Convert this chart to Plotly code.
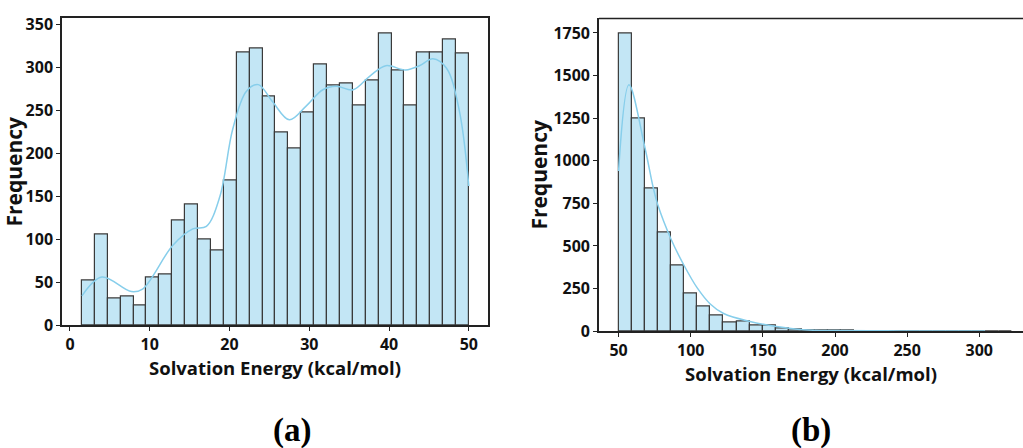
import numpy as np
import plotly.graph_objects as go

# ---- Panel (a) data ----
a_start = 1.5
a_width = 1.617
a_counts = [52, 105, 31, 33, 23, 56, 59, 122, 141, 100, 87, 168,
            317, 322, 266, 224, 206, 248, 304, 279, 281, 256, 285, 340,
            296, 256, 318, 318, 332, 316]
a_kde_x = [1.5, 4.0, 7.7, 9.1, 12.9, 15.4, 17.1, 18.8, 20.4, 22.1, 23.6, 25.4,
           27.5, 29.6, 31.7, 33.4, 35.5, 37.6, 39.6, 42.1, 43.8, 45.5, 47.2, 48.8, 50.0]
a_kde_y = [34, 56, 39, 42, 93, 112, 115, 150, 228, 272, 280, 260,
           239, 255, 274, 278, 274, 290, 302, 297, 302, 310, 299, 250, 162]

# ---- Panel (b) data ----
b_start = 50.0
b_width = 9.08
b_counts = [1745, 1248, 840, 579, 384, 220, 143, 92, 51, 55, 34, 32, 17, 9,
            4, 3, 3, 2, 1, 0, 1, 0, 1, 0, 0, 1, 0, 0, 1, 0]
b_kde_x = [50, 57.2, 68, 74, 77, 86.3, 95.3, 104.5, 113.5, 122.8, 141, 159.3,
           178, 201, 235.8, 270, 300, 304]
b_kde_y = [940, 1446, 1087, 843, 746, 541, 387, 254, 160, 104, 57, 28,
           9, 4, 2, 1, 1, 0.5]

x_ticks_a = [0, 10, 20, 30, 40, 50]
y_ticks_a = [0, 50, 100, 150, 200, 250, 300, 350]
x_ticks_b = [50, 100, 150, 200, 250, 300]
y_ticks_b = [0, 250, 500, 750, 1000, 1250, 1500, 1750]

BAR_FILL = "rgba(135,206,235,0.5)"
BAR_LINE = "#3a3a3a"
KDE_COLOR = "#87ceeb"
FONT = "Open Sans"

a_centers = a_start + a_width * (np.arange(len(a_counts)) + 0.5)
b_centers = b_start + b_width * (np.arange(len(b_counts)) + 0.5)

fig = go.Figure()
fig.add_trace(go.Bar(x=a_centers, y=a_counts, width=a_width,
                     marker=dict(color=BAR_FILL, line=dict(color=BAR_LINE, width=1.2)),
                     xaxis="x", yaxis="y", showlegend=False))
fig.add_trace(go.Scatter(x=a_kde_x, y=a_kde_y, mode="lines",
                         line=dict(color=KDE_COLOR, width=1.5, shape="spline"),
                         xaxis="x", yaxis="y", showlegend=False))
fig.add_trace(go.Bar(x=b_centers, y=b_counts, width=b_width,
                     marker=dict(color=BAR_FILL, line=dict(color=BAR_LINE, width=1.2)),
                     xaxis="x2", yaxis="y2", showlegend=False))
fig.add_trace(go.Scatter(x=b_kde_x, y=b_kde_y, mode="lines",
                         line=dict(color=KDE_COLOR, width=1.5, shape="spline"),
                         xaxis="x2", yaxis="y2", showlegend=False))

tick_font = dict(family=FONT, size=16, color="#111111", weight="bold")
xtitle_font = dict(family=FONT, size=18.5, color="#111111", weight="bold")
ytitle_font = dict(family=FONT, size=21, color="#111111", weight="bold")
axis_common = dict(showgrid=False, zeroline=False, ticks="outside", ticklen=4,
                   tickwidth=1.2, tickcolor="#222222", linecolor="#222222",
                   linewidth=1.5, tickfont=tick_font)

fig.update_layout(
    width=1023, height=448,
    margin=dict(l=0, r=0, t=0, b=0),
    paper_bgcolor="white", plot_bgcolor="white",
    bargap=0,
    xaxis=dict(domain=[0.0606, 0.477], range=[-1.0, 52.4], tickvals=x_ticks_a,
               showline=True, mirror=True, anchor="y",
               title=dict(text="Solvation Energy (kcal/mol)", font=xtitle_font, standoff=2),
               **axis_common),
    yaxis=dict(domain=[0.259, 0.9688], range=[0, 357], tickvals=y_ticks_a,
               showline=True, mirror=True, anchor="x",
               title=dict(text="Frequency", font=ytitle_font, standoff=0),
               **axis_common),
    xaxis2=dict(domain=[0.5855, 1.0], range=[36.4, 330.3], tickvals=x_ticks_b,
                showline=True, mirror=False, anchor="y2",
                title=dict(text="Solvation Energy (kcal/mol)", font=xtitle_font, standoff=2),
                **axis_common),
    yaxis2=dict(domain=[0.2449, 0.9688], range=[0, 1835], tickvals=y_ticks_b,
                showline=True, mirror=False, anchor="x2",
                title=dict(text="Frequency", font=ytitle_font, standoff=0),
                **axis_common),
    shapes=[dict(type="line", xref="x2 domain", yref="y2 domain", x0=0, x1=1, y0=1, y1=1,
                 line=dict(color="#222222", width=1.5))],
    annotations=[
        dict(text="(a)", x=0.265, y=0.016, xref="paper", yref="paper", yanchor="middle",
             showarrow=False,
             font=dict(family="Liberation Serif", size=33, color="black", weight="bold")),
        dict(text="(b)", x=0.814, y=0.016, xref="paper", yref="paper", yanchor="middle",
             showarrow=False,
             font=dict(family="Liberation Serif", size=33, color="black", weight="bold")),
    ],
)

fig.write_html("out.html")
